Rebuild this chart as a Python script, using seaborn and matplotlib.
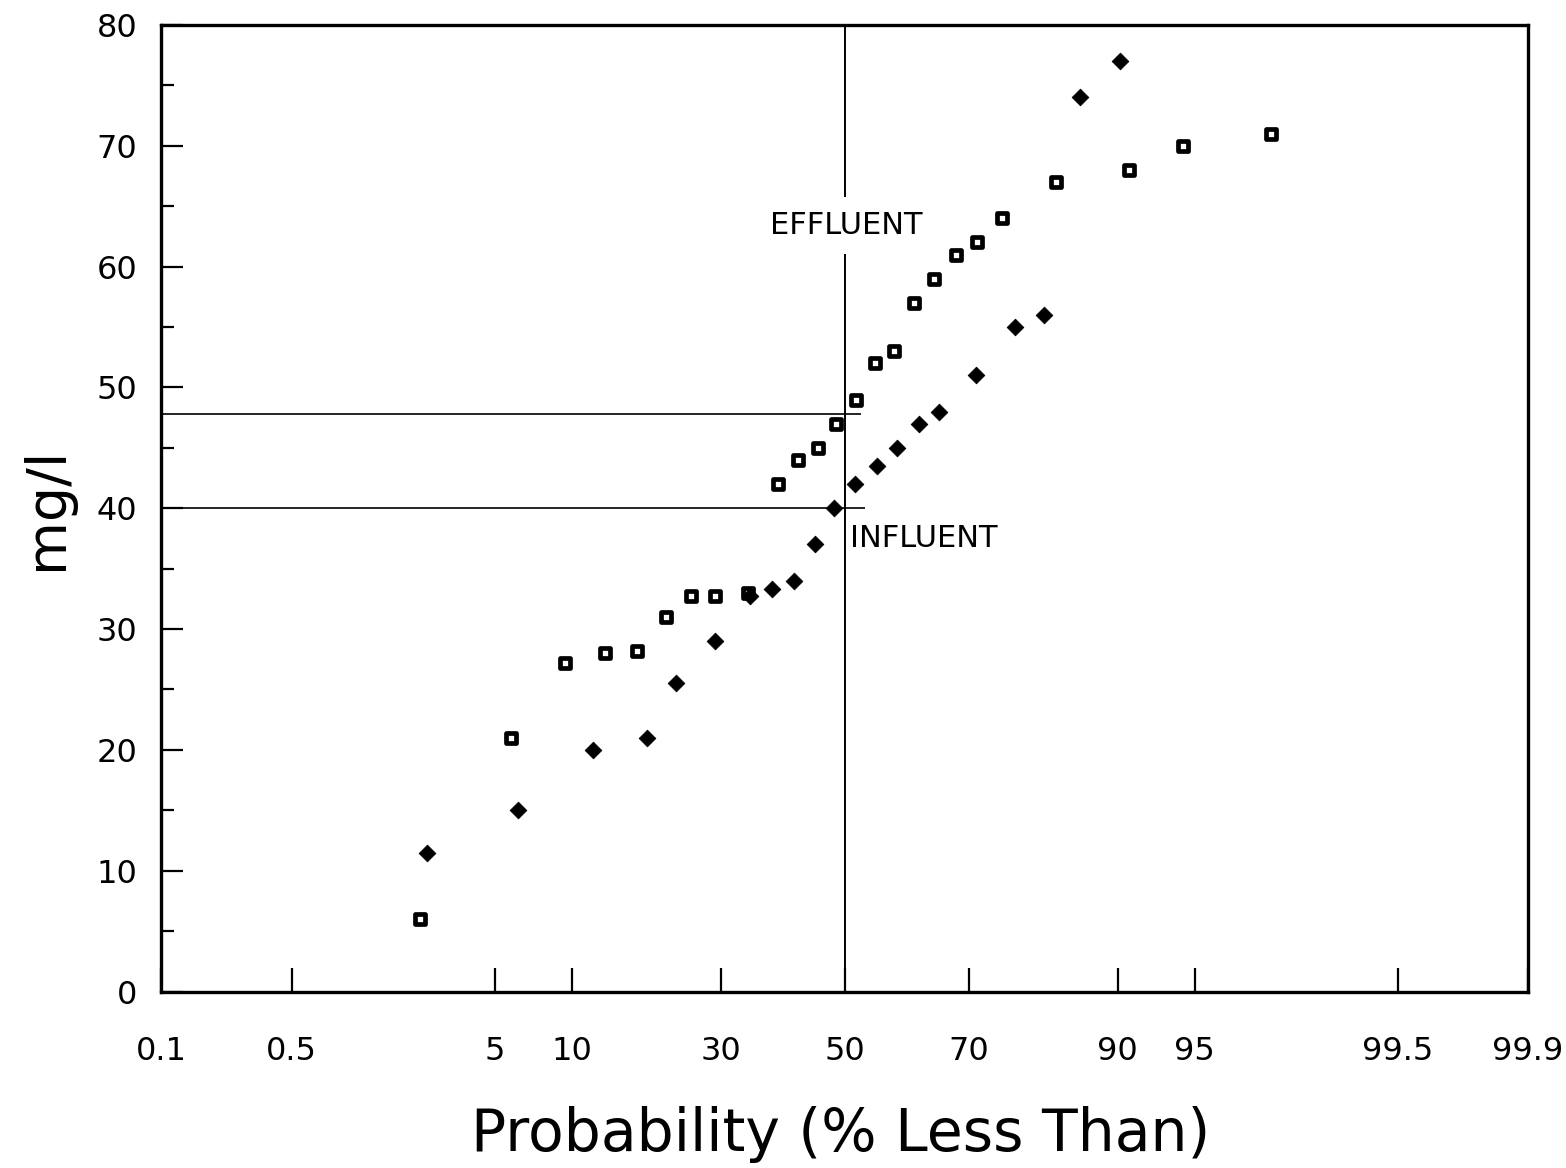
import math
import numpy as np
import pandas as pd
import matplotlib
matplotlib.use("Agg")
import matplotlib.pyplot as plt
import seaborn as sns

# ---------------- data ----------------
effluent_prob = [2.34, 5.84, 9.45, 13.3, 17.1, 21.1, 25.0, 29.0, 34.1, 39.0, 42.2,
                 45.5, 48.5, 51.9, 55.1, 58.3, 61.5, 64.8, 68.1, 71.4, 75.6, 83.4,
                 90.9, 94.4, 97.7]
effluent_mgl = [6, 21, 27.2, 28, 28.2, 31, 32.7, 32.7, 33, 42, 44,
                45, 47, 49, 52, 53, 57, 59, 61, 62, 64, 67,
                68, 70, 71]

influent_prob = [2.54, 6.27, 12.1, 18.5, 22.6, 29.1, 34.4, 37.9, 41.5, 45.0, 48.3,
                 51.8, 55.4, 58.8, 62.3, 65.6, 71.3, 77.6, 81.8, 86.2, 90.2]
influent_mgl = [11.5, 15, 20, 21, 25.5, 29, 32.7, 33.3, 34, 37, 40,
                42, 43.5, 45, 47, 48, 51, 55, 56, 74, 77]

prob_ticks = [0.1, 0.5, 5, 10, 30, 50, 70, 90, 95, 99.5, 99.9]
prob_labels = ["0.1", "0.5", "5", "10", "30", "50", "70", "90", "95", "99.5", "99.9"]
y_ticks = [0, 10, 20, 30, 40, 50, 60, 70, 80]

median_effluent = 47.8
median_influent = 40.0

# ---------------- probability-paper scale ----------------
_erf = np.vectorize(math.erf)
_zgrid = np.linspace(-8.5, 8.5, 34001)
_cgrid = 0.5 * (1.0 + _erf(_zgrid / math.sqrt(2.0)))


def norm_cdf(z):
    return 0.5 * (1.0 + _erf(np.asarray(z, dtype=float) / math.sqrt(2.0)))


def norm_ppf(q):
    return np.interp(q, _cgrid, _zgrid)


# ruling of the printed probability paper (relative spacing of its rulings)
_paper_z = norm_ppf(np.array(prob_ticks) / 100.0)
_paper_z[5] = 0.0
_paper_u = np.array([-683.5, -553, -350, -273, -124, 0, 124, 273, 350, 553, 683.5])
_slope = (_paper_u[-1] - _paper_u[-2]) / (_paper_z[-1] - _paper_z[-2])
_Z = np.concatenate(([-8.5], _paper_z, [8.5]))
_U = np.concatenate(([_paper_u[0] - (_paper_z[0] + 8.5) * _slope], _paper_u,
                     [_paper_u[-1] + (8.5 - _paper_z[-1]) * _slope]))


def fwd(p):
    p = np.asarray(p, dtype=float)
    q = np.clip(p / 100.0, 1e-15, 1 - 1e-15)
    return np.interp(norm_ppf(q), _Z, _U)


def inv(u):
    u = np.asarray(u, dtype=float)
    return 100.0 * norm_cdf(np.interp(u, _U, _Z))


# ---------------- figure ----------------
sns.set_style("white")
plt.rcParams["font.family"] = ["DejaVu Sans"]
plt.rcParams["text.color"] = "black"
plt.rcParams["xtick.color"] = "black"
plt.rcParams["ytick.color"] = "black"
plt.rcParams["axes.labelcolor"] = "black"

fig = plt.figure(figsize=(15.66, 11.68), dpi=100)
ax = fig.add_axes([161 / 1566, 1 - 991.5 / 1168, 1367 / 1566, (991.5 - 25) / 1168])
ax.set_xscale("function", functions=(fwd, inv))

eff = pd.DataFrame({"prob": effluent_prob, "mgl": effluent_mgl})
inf = pd.DataFrame({"prob": influent_prob, "mgl": influent_mgl})

sns.scatterplot(data=eff, x="prob", y="mgl", ax=ax, marker="s", s=46,
                color="white", edgecolor="black", linewidth=3.4, zorder=4)
sns.scatterplot(data=inf, x="prob", y="mgl", ax=ax, marker="D", s=72,
                color="black", edgecolor="black", linewidth=0.6, zorder=4)

# median guide lines
ax.hlines(median_effluent, 0.1, 52.7, color="black", lw=1.2, zorder=2)
ax.hlines(median_influent, 0.1, 53.4, color="black", lw=1.2, zorder=2)
ax.vlines(50, 0, 80, color="black", lw=1.4, zorder=2)

ax.text(50.3, 63.4, "EFFLUENT", fontsize=22, ha="center", va="center", zorder=3,
        color="black", bbox=dict(boxstyle="square,pad=0.45", fc="white", ec="none"))
ax.text(51.0, 37.5, "INFLUENT", fontsize=22, ha="left", va="center", zorder=3,
        color="black")

ax.set_xlim(0.1, 99.9)
ax.set_ylim(0, 80)
ax.set_xticks(prob_ticks)
ax.set_xticklabels(prob_labels)
ax.xaxis.set_minor_locator(matplotlib.ticker.NullLocator())
ax.set_yticks(y_ticks)
ax.yaxis.set_minor_locator(matplotlib.ticker.MultipleLocator(5))

ax.tick_params(axis="x", which="major", direction="in", length=17, width=1.6,
               pad=32, labelsize=23, top=False, bottom=True, colors="black")
ax.tick_params(axis="y", which="major", direction="in", length=16, width=1.6,
               pad=17, labelsize=23, left=True, right=False, colors="black")
ax.tick_params(axis="y", which="minor", direction="in", length=9, width=1.6,
               left=True, right=False, colors="black")

for sp in ax.spines.values():
    sp.set_visible(True)
    sp.set_linewidth(2.4)
    sp.set_color("black")

ax.set_xlabel("Probability (% Less Than)", fontsize=42, color="black")
ax.set_ylabel("mg/l", fontsize=40, color="black")
ax.xaxis.set_label_coords(0.497, -0.118)
ax.yaxis.set_label_coords(-0.064, 0.5)

fig.savefig("out.png", dpi=100, facecolor="white")
